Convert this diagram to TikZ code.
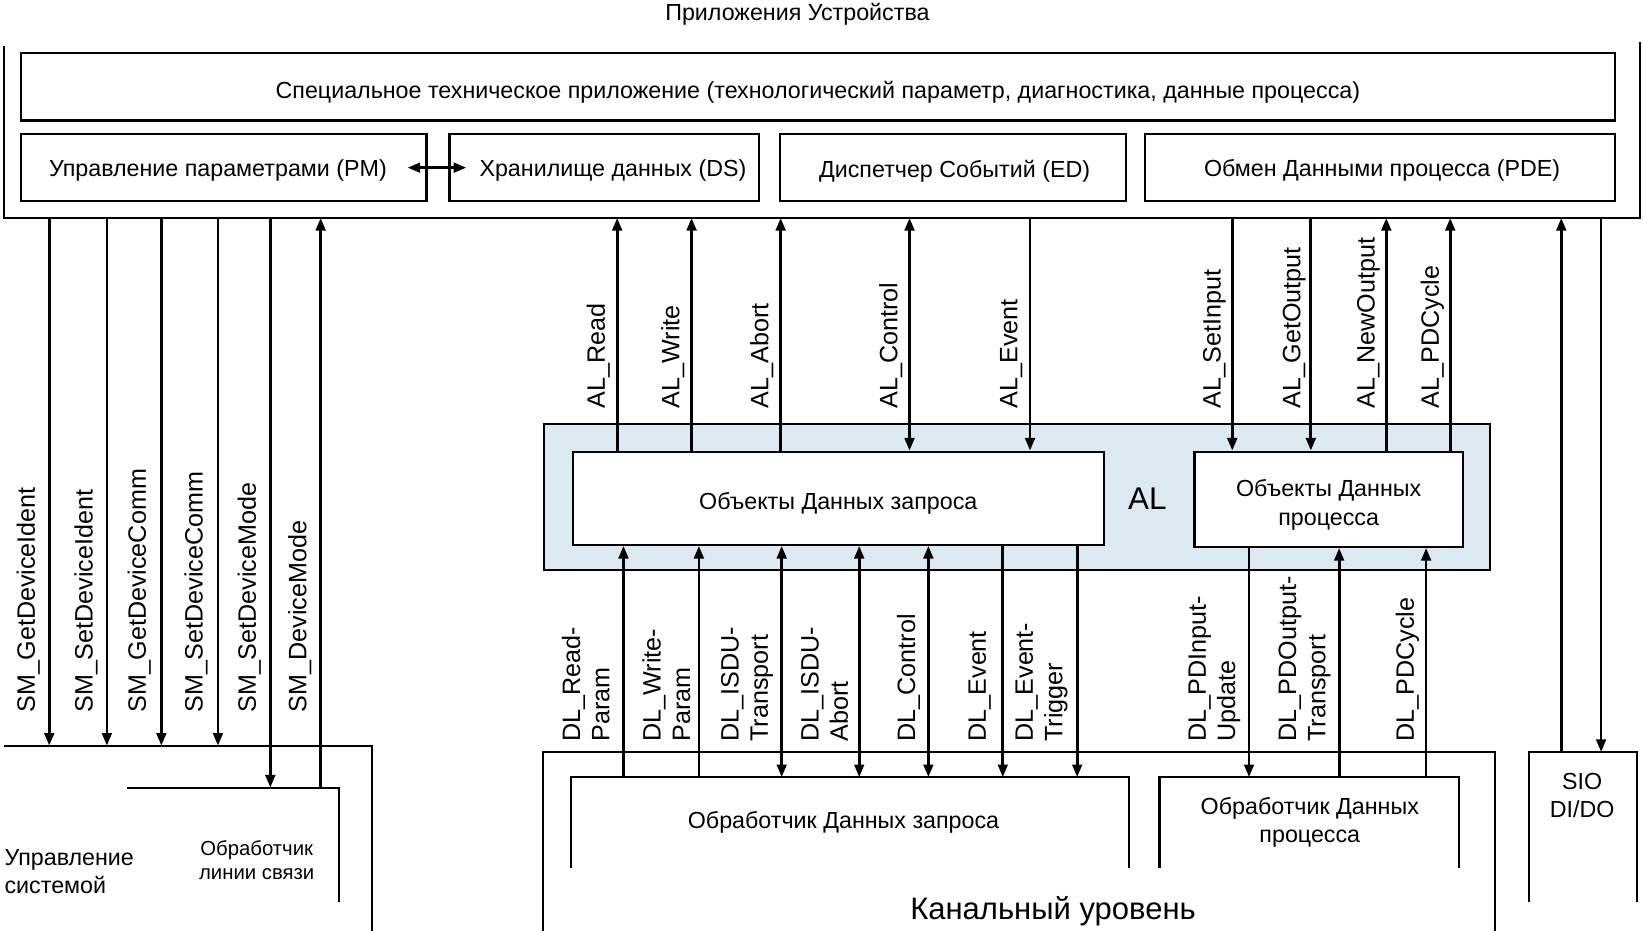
\documentclass[tikz,border=0pt]{standalone}
\usepackage{fontspec}
\setmainfont{Liberation Sans}
\usetikzlibrary{arrows.meta,fit,calc}
\definecolor{alblue}{RGB}{221,233,241}
\begin{document}
\begin{tikzpicture}[x=0.5pt,y=-0.5pt,
  ln/.style={line width=1pt},
  box/.style={draw, line width=1pt, fill=white, inner sep=0pt},
  area/.style={inner sep=0pt},
  arr/.style={line width=1.3pt, -{Triangle[length=6pt,width=4.6pt]}},
  darr/.style={line width=1.3pt, {Triangle[length=6pt,width=4.6pt]}-{Triangle[length=6pt,width=4.6pt]}},
  lbl/.style={rotate=90, anchor=west, inner sep=0pt, align=left, font=\fontsize{12}{14}\selectfont},
  txt/.style={align=center, inner sep=0pt, font=\fontsize{11.1}{13.6}\selectfont},
  small/.style={align=center, inner sep=0pt, font=\fontsize{9.7}{11.3}\selectfont}
]
\useasboundingbox (0,0) rectangle (1568,888);

% ---- Device applications frame
\node[txt] (title) at (761,14) {Приложения Устройства};
\coordinate (ftl) at (4,44);
\coordinate (fbl) at (4,208);
\coordinate (fbr) at (1565,208);
\coordinate (ftr) at (1565,40);
\draw[ln] (ftl) -- (fbl) -- (fbr) -- (ftr);

\node[box, fit={(20,51)(1541,115)}] (spec) {};
\node[txt] (spectxt) at ($(spec.center)+(0,5)$) {Специальное техническое приложение (технологический параметр, диагностика, данные процесса)};
\node[box, fit={(20,128)(407,192)}] (pm) {};
\node[txt] (pmtxt) at (208,163) {Управление параметрами (PM)};
\node[box, fit={(429,128)(724,192)}] (ds) {};
\node[txt] (dstxt) at (585,163) {Хранилище данных (DS)};
\node[box, fit={(744,128)(1075,192)}] (ed) {};
\node[txt] (edtxt) at (911,163) {Диспетчер Событий (ED)};
\node[box, fit={(1093,128)(1541,192)}] (pde) {};
\node[txt] (pdetxt) at (1319,163) {Обмен Данными процесса (PDE)};
\draw[darr] ($(pm.east)+(-19,0)$) -- ($(ds.west)+(17,0)$);

% ---- AL
\node[draw, ln, fill=alblue, inner sep=0pt, fit={(519,405)(1422,544)}] (al) {};
\node[inner sep=0pt, font=\fontsize{15}{18}\selectfont] (altxt) at (1095,476) {AL};
\node[box, fit={(547,431)(1054,520)}] (reqobj) {};
\node[txt] (reqobjtxt) at (800,480) {Объекты Данных запроса};
\node[box, fit={(1140,431)(1396,522)}] (procobj) {};
\node[txt] (procobjtxt) at (1268,482) {Объекты Данных\\процесса};

% AL services
\draw[arr] (reqobj.north -| 589,0) -- (589,0 |- fbl);
\draw[arr] (reqobj.north -| 660,0) -- (660,0 |- fbl);
\draw[arr] (reqobj.north -| 745,0) -- (745,0 |- fbl);
\draw[darr] (reqobj.north -| 868,0) -- (868,0 |- fbl);
\draw[arr] (983,0 |- fbl) -- (reqobj.north -| 983,0);
\draw[arr] (1176,0 |- fbl) -- (procobj.north -| 1176,0);
\draw[arr] (1251,0 |- fbl) -- (procobj.north -| 1251,0);
\draw[arr] (procobj.north -| 1323,0) -- (1323,0 |- fbl);
\draw[arr] (procobj.north -| 1384,0) -- (1384,0 |- fbl);

\node[lbl] (l1) at (571,390) {AL\_Read};
\node[lbl] (l2) at (642,390) {AL\_Write};
\node[lbl] (l3) at (727,390) {AL\_Abort};
\node[lbl] (l4) at (850,390) {AL\_Control};
\node[lbl] (l5) at (965,390) {AL\_Event};
\node[lbl] (l6) at (1159,390) {AL\_SetInput};
\node[lbl] (l7) at (1235,390) {AL\_GetOutput};
\node[lbl] (l8) at (1306,390) {AL\_NewOutput};
\node[lbl] (l9) at (1367,390) {AL\_PDCycle};

% ---- Data link layer
\node[area, fit={(519,718)(1426,888)}] (dl) {};
\draw[ln] (dl.south west) -- (dl.north west) -- (dl.north east) -- (dl.south east);
\node[inner sep=0pt, font=\fontsize{14.8}{17}\selectfont] (dltxt) at (1005,870) {Канальный уровень};
\node[area, fit={(545,742)(1077,828)}] (dlreq) {};
\draw[ln] (dlreq.south west) -- (dlreq.north west) -- (dlreq.north east) -- (dlreq.south east);
\node[txt] (dlreqtxt) at (805,785) {Обработчик Данных запроса};
\node[area, fit={(1107,742)(1392,828)}] (dlproc) {};
\draw[ln] (dlproc.south west) -- (dlproc.north west) -- (dlproc.north east) -- (dlproc.south east);
\node[txt] (dlproctxt) at (1250,785) {Обработчик Данных\\процесса};

% DL services
\draw[arr] (dlreq.north -| 595,0) -- (reqobj.south -| 595,0);
\draw[arr] (dlreq.north -| 667,0) -- (reqobj.south -| 667,0);
\draw[darr] (dlreq.north -| 746,0) -- (reqobj.south -| 746,0);
\draw[darr] (dlreq.north -| 820,0) -- (reqobj.south -| 820,0);
\draw[darr] (dlreq.north -| 886,0) -- (reqobj.south -| 886,0);
\draw[arr] (reqobj.south -| 957,0) -- (dlreq.north -| 957,0);
\draw[arr] (reqobj.south -| 1028,0) -- (dlreq.north -| 1028,0);
\draw[arr] (procobj.south -| 1192,0) -- (dlproc.north -| 1192,0);
\draw[arr] (dlproc.north -| 1278,0) -- (procobj.south -| 1278,0);
\draw[arr] (dlproc.north -| 1361,0) -- (procobj.south -| 1361,0);

\node[lbl] (d1) at (559,708) {DL\_Read-\\Param};
\node[lbl] (d2) at (636,708) {DL\_Write-\\Param};
\node[lbl] (d3) at (713,708) {DL\_ISDU-\\Transport};
\node[lbl] (d4) at (787,708) {DL\_ISDU-\\Abort};
\node[lbl] (d5) at (867,708) {DL\_Control};
\node[lbl] (d6) at (935,708) {DL\_Event};
\node[lbl] (d7) at (994,708) {DL\_Event-\\Trigger};
\node[lbl] (d8) at (1159,708) {DL\_PDInput-\\Update};
\node[lbl] (d9) at (1245,708) {DL\_PDOutput-\\Transport};
\node[lbl] (d10) at (1343,708) {DL\_PDCycle};

% ---- SIO
\node[area, fit={(1460,718)(1562,860)}] (sio) {};
\draw[ln] (sio.south west) -- (sio.north west) -- (sio.north east) -- (sio.south east);
\node[txt] (siotxt) at (1510,759) {SIO\\DI/DO};
\draw[arr] (sio.north -| 1490,0) -- (1490,0 |- fbr);
\draw[arr] (1528,0 |- fbr) -- (sio.north -| 1528,0);

% ---- System management
\node[area, fit={(4,712)(355,888)}] (sm) {};
\draw[ln] (sm.north west) -- (sm.north east) -- (sm.south east);
\node[area, fit={(122,752)(323,860)}] (lh) {};
\draw[ln] (lh.north west) -- (lh.north east) -- (lh.south east);
\node[txt, align=left, anchor=west] (smtxt) at (4,832) {Управление\\системой};
\node[small] (lhtxt) at (245,821) {Обработчик\\линии связи};

\draw[arr] (47,0 |- fbl) -- (sm.north -| 47,0);
\draw[arr] (102,0 |- fbl) -- (sm.north -| 102,0);
\draw[arr] (154,0 |- fbl) -- (sm.north -| 154,0);
\draw[arr] (208,0 |- fbl) -- (sm.north -| 208,0);
\draw[arr] (258,0 |- fbl) -- (lh.north -| 258,0);
\draw[arr] (lh.north -| 306,0) -- (306,0 |- fbl);

\node[lbl] (s1) at (27,680) {SM\_GetDeviceIdent};
\node[lbl] (s2) at (82,680) {SM\_SetDeviceIdent};
\node[lbl] (s3) at (133,680) {SM\_GetDeviceComm};
\node[lbl] (s4) at (187,680) {SM\_SetDeviceComm};
\node[lbl] (s5) at (238,680) {SM\_SetDeviceMode};
\node[lbl] (s6) at (286,680) {SM\_DeviceMode};
\end{tikzpicture}
\end{document}
